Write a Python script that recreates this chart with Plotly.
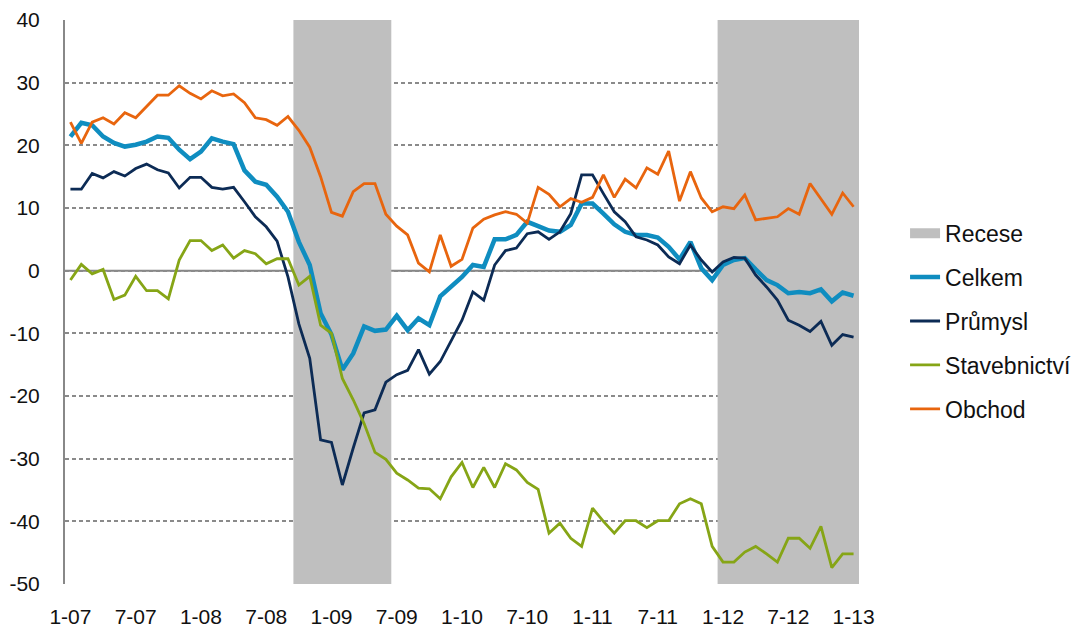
import plotly.graph_objects as go

START_YEAR = 2007
N_MONTHS = 73


def month_labels(start_year: int, count: int) -> list[str]:
    labels: list[str] = []
    for k in range(count):
        labels.append(f"{k % 12 + 1}-{(start_year + k // 12) % 100:02d}")
    return labels


MONTHS = month_labels(START_YEAR, N_MONTHS)
TICK_LABELS = MONTHS[::6]

Y_TICKS = [40, 30, 20, 10, 0, -10, -20, -30, -40, -50]
# the source uses a plain hyphen for negatives, not the unicode minus
Y_TICK_LABELS = [str(v) for v in Y_TICKS]

CELKEM = [
    21.4, 23.6, 23.2, 21.4, 20.4, 19.8, 20.1, 20.6, 21.4, 21.2,
    19.3, 17.8, 19.0, 21.1, 20.6, 20.2, 16.0, 14.2, 13.7, 11.8,
    9.4, 4.6, 0.9, -6.8, -10.2, -15.8, -13.2, -8.9, -9.6, -9.4,
    -7.2, -9.5, -7.6, -8.7, -4.1, -2.6, -1.0, 0.9, 0.6, 5.0,
    5.0, 5.7, 7.8, 7.1, 6.4, 6.2, 7.3, 10.7, 10.7, 9.1,
    7.4, 6.2, 5.7, 5.7, 5.3, 3.8, 1.8, 4.6, 0.4, -1.5,
    0.9, 1.7, 2.0, 0.2, -1.5, -2.3, -3.6, -3.4, -3.6, -3.0,
    -4.9, -3.5, -4.0,
]

PRUMYSL = [
    13.0, 13.0, 15.5, 14.8, 15.8, 15.1, 16.3, 17.0, 16.1, 15.6,
    13.2, 14.9, 14.9, 13.3, 13.0, 13.3, 11.0, 8.6, 7.0, 4.7,
    -1.0, -8.5, -14.0, -27.0, -27.4, -34.2, -28.3, -22.7, -22.2, -17.8,
    -16.6, -15.9, -12.6, -16.5, -14.5, -11.3, -7.9, -3.4, -4.7, 0.9,
    3.2, 3.6, 5.9, 6.2, 5.0, 6.2, 9.1, 15.3, 15.3, 12.3,
    9.4, 7.8, 5.4, 4.9, 4.1, 2.2, 1.1, 4.1, 1.7, -0.2,
    1.4, 2.1, 2.0, -0.7, -2.6, -4.7, -7.9, -8.7, -9.7, -8.1,
    -11.9, -10.2, -10.6,
]

STAVEBNICTVI = [
    -1.5, 1.0, -0.5, 0.2, -4.6, -3.9, -0.9, -3.2, -3.2, -4.5,
    1.7, 4.8, 4.8, 3.2, 4.1, 2.0, 3.2, 2.7, 1.1, 1.9,
    1.9, -2.3, -0.9, -8.7, -10.0, -17.2, -20.6, -24.4, -29.0, -30.1,
    -32.3, -33.4, -34.7, -34.8, -36.4, -32.9, -30.6, -34.6, -31.4, -34.6,
    -30.8, -31.8, -33.8, -34.9, -41.9, -40.3, -42.7, -44.0, -37.9, -40.0,
    -41.9, -39.9, -39.9, -41.0, -39.9, -39.9, -37.2, -36.4, -37.2, -44.0,
    -46.5, -46.5, -44.9, -44.0, -45.2, -46.5, -42.7, -42.7, -44.3, -40.8,
    -47.4, -45.2, -45.2,
]

OBCHOD = [
    23.7, 20.3, 23.7, 24.4, 23.4, 25.2, 24.4, 26.2, 28.0, 28.0,
    29.5, 28.3, 27.4, 28.7, 27.9, 28.2, 26.8, 24.4, 24.1, 23.2,
    24.6, 22.4, 19.7, 15.0, 9.3, 8.7, 12.6, 13.9, 13.9, 9.0,
    7.1, 5.7, 1.2, -0.2, 5.7, 0.7, 1.8, 6.8, 8.2, 8.9,
    9.4, 9.0, 7.6, 13.3, 12.2, 10.2, 11.5, 10.9, 11.7, 15.3,
    11.7, 14.6, 13.2, 16.4, 15.4, 19.1, 11.1, 15.8, 11.6, 9.4,
    10.2, 9.9, 12.1, 8.1, 8.4, 8.6, 9.9, 9.0, 13.9, 11.4,
    9.0, 12.4, 10.2,
]

# first and last month of each recession period
RECESSIONS = [("10-08", "6-09"), ("1-12", "1-13")]

Y_MIN, Y_MAX = -50, 40

SHADE = "#BFBFBF"
GRID = "#8A8A8A"
FONT = "Liberation Sans, Arial, sans-serif"

# the page body adds an 8px margin, so the figure is 8px smaller each way
PAGE_OFFSET = 8

SERIES = (
    ("Celkem", CELKEM, "#0F8DC0", 4.5),
    ("Průmysl", PRUMYSL, "#0C2B55", 2.8),
    ("Stavebnictví", STAVEBNICTVI, "#86A516", 2.8),
    ("Obchod", OBCHOD, "#E8650E", 2.8),
)

fig = go.Figure()

# legend entry for the shaded periods (the shading itself is drawn as shapes)
fig.add_trace(
    go.Scatter(
        x=[None],
        y=[None],
        mode="lines",
        name="Recese",
        line=dict(color=SHADE, width=10),
        legendgroup="recese",
    )
)

for start, end in RECESSIONS:
    fig.add_shape(
        type="rect",
        xref="x",
        yref="y",
        x0=MONTHS.index(start) - 0.5,
        x1=MONTHS.index(end) + 0.5,
        y0=Y_MIN,
        y1=Y_MAX,
        fillcolor=SHADE,
        line_width=0,
        layer="between",
    )

fig.add_shape(
    type="line",
    xref="paper",
    yref="y",
    x0=0,
    x1=1,
    y0=0,
    y1=0,
    line=dict(color="#858585", width=2),
    layer="between",
)

for name, values, color, width in SERIES:
    fig.add_trace(
        go.Scatter(
            x=MONTHS,
            y=values,
            mode="lines",
            name=name,
            line=dict(color=color, width=width),
            legendgroup=name,
        )
    )

fig.update_layout(
    width=1081 - PAGE_OFFSET,
    height=627 - PAGE_OFFSET,
    margin=dict(l=65 - PAGE_OFFSET, r=222, t=20 - PAGE_OFFSET, b=43, autoexpand=False),
    paper_bgcolor="white",
    plot_bgcolor="white",
    font=dict(family=FONT, size=21, color="#111111"),
    showlegend=True,
    legend=dict(
        x=1.058,
        xanchor="left",
        y=0.66,
        yanchor="top",
        tracegroupgap=11,
        font=dict(family=FONT, size=23, color="#111111"),
        bgcolor="rgba(0,0,0,0)",
    ),
)

fig.update_xaxes(
    type="category",
    range=[-0.5, N_MONTHS - 0.5],
    tickmode="array",
    tickvals=TICK_LABELS,
    ticktext=TICK_LABELS,
    showgrid=False,
    zeroline=False,
    showline=False,
    ticks="outside",
    ticklen=14,
    tickcolor="rgba(0,0,0,0)",
    automargin=False,
)

fig.update_yaxes(
    range=[Y_MIN, Y_MAX],
    tickmode="array",
    tickvals=Y_TICKS,
    ticktext=Y_TICK_LABELS,
    showgrid=True,
    gridcolor=GRID,
    gridwidth=1.5,
    griddash="4px,3px",
    zeroline=False,
    showline=True,
    linecolor="#888888",
    linewidth=2,
    ticks="outside",
    ticklen=19,
    tickcolor="rgba(0,0,0,0)",
    automargin=False,
)

fig.write_html("out.html")
